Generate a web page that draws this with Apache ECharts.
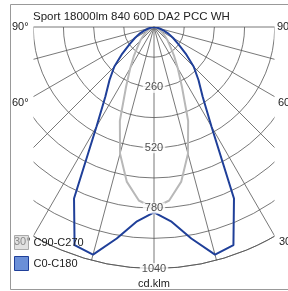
<!DOCTYPE html>
<html>
<head>
<meta charset="utf-8">
<style>
html,body{margin:0;padding:0;background:#fff;}
#main{width:288px;height:291px;}
</style>
</head>
<body>
<div id="main"></div>
<script src="https://cdn.jsdelivr.net/npm/echarts@6/dist/echarts.min.js"></script>
<script type="text/javascript">
// gamma angles from nadir (deg), one side; the other side is the mirror
var angles = [0, 5, 10, 15, 20, 25, 30, 35, 40, 45, 50, 55, 60, 65, 70, 75, 80, 85, 90];
// cd/klm
var c0c180 = [798, 840, 925, 1015, 1000, 815, 495, 365, 298, 242, 178, 128, 95, 70, 45, 25, 12, 4, 0];
var c90c270 = [780, 750, 676, 565, 430, 285, 205, 150, 108, 84, 62, 44, 32, 22, 14, 8, 4, 1, 0];
var ringLabels = [260, 520, 780, 1040];
var title = 'Sport 18000lm 840 60D DA2 PCC WH';
var unit = 'cd.klm';

var FONT = 'Liberation Sans, Arial, sans-serif';
var GRID = '#555';

function mirror(vals){
    var out = [];
    for (var i = angles.length - 1; i > 0; i--) {
        out.push([vals[i], -angles[i]]);
    }
    for (var j = 0; j < angles.length; j++) {
        out.push([vals[j], angles[j]]);
    }
    return out;
}

function txt(x, y, s, align){
    return {
        type: 'text', x: x, y: y, z: 60,
        style: {text: s, fill: '#222', font: '11px ' + FONT, align: align || 'left', verticalAlign: 'middle'}
    };
}

var myChart = echarts.init(document.getElementById('main'), null, {renderer: 'canvas'});

var option = {
    animation: false,
    backgroundColor: '#fff',
    polar: {
        center: [154, 27],
        radius: [0, 241.5]
    },
    angleAxis: {
        type: 'value',
        min: -90,
        max: 90,
        interval: 15,
        startAngle: 180,
        endAngle: 360,
        clockwise: false,
        axisLine: {show: true, lineStyle: {color: GRID, width: 0.8}},
        axisTick: {show: false},
        axisLabel: {show: false},
        splitLine: {show: true, lineStyle: {color: GRID, width: 0.8}}
    },
    radiusAxis: {
        type: 'value',
        min: 0,
        max: 1040,
        interval: 130,
        axisLine: {show: false},
        axisTick: {show: false},
        axisLabel: {show: false},
        splitLine: {show: true, lineStyle: {color: GRID, width: 0.8}}
    },
    legend: {
        orient: 'vertical',
        left: 14,
        top: 235,
        padding: 0,
        itemWidth: 14,
        itemHeight: 14,
        itemGap: 6,
        icon: 'rect',
        z: 70,
        textStyle: {fontSize: 11, color: '#222', fontFamily: FONT},
        data: [
            {name: 'C90-C270', itemStyle: {color: 'rgba(205,205,205,0.6)', borderColor: '#aaa', borderWidth: 1}},
            {name: 'C0-C180', itemStyle: {color: '#6a8fd8', borderColor: '#1f3f99', borderWidth: 1}}
        ]
    },
    series: [
        {
            name: 'C90-C270',
            type: 'line',
            coordinateSystem: 'polar',
            symbol: 'none',
            data: mirror(c90c270),
            lineStyle: {color: '#b8b8b8', width: 2},
            itemStyle: {color: '#b8b8b8'},
            z: 3
        },
        {
            name: 'C0-C180',
            type: 'line',
            coordinateSystem: 'polar',
            symbol: 'none',
            data: mirror(c0c180),
            lineStyle: {color: '#1f3f99', width: 2},
            itemStyle: {color: '#1f3f99'},
            z: 4
        },
        {
            type: 'scatter',
            coordinateSystem: 'polar',
            symbolSize: 0,
            silent: true,
            z: 5,
            data: ringLabels.map(function(v){ return [v, 0]; }),
            label: {
                show: true,
                position: 'inside',
                formatter: function(p){ return p.value[0]; },
                fontSize: 11,
                fontFamily: FONT,
                color: '#222',
                backgroundColor: '#fff',
                padding: [0, 2]
            }
        }
    ],
    graphic: [
        // clip the grid to the plot box
        {type: 'rect', z: 50, shape: {x: 0, y: 0, width: 33.5, height: 291}, style: {fill: '#fff'}},
        {type: 'rect', z: 50, shape: {x: 274.5, y: 0, width: 14, height: 291}, style: {fill: '#fff'}},
        {type: 'rect', z: 50, shape: {x: 0, y: 0, width: 288, height: 26}, style: {fill: '#fff'}},
        {type: 'rect', z: 61, shape: {x: 10.5, y: 4.5, width: 300, height: 285}, style: {fill: null, stroke: '#999', lineWidth: 1}},
        {type: 'text', x: 33, y: 17, z: 60, style: {text: title, fill: '#222', font: '11.5px ' + FONT, verticalAlign: 'middle'}},
        txt(12, 27, '90°'),
        txt(12, 103, '60°'),
        txt(14, 242, '30°'),
        txt(277, 27, '90°'),
        txt(278, 103, '60°'),
        txt(279, 242, '30°'),
        txt(154, 284, unit, 'center')
    ]
};

myChart.setOption(option);
</script>
</body>
</html>
